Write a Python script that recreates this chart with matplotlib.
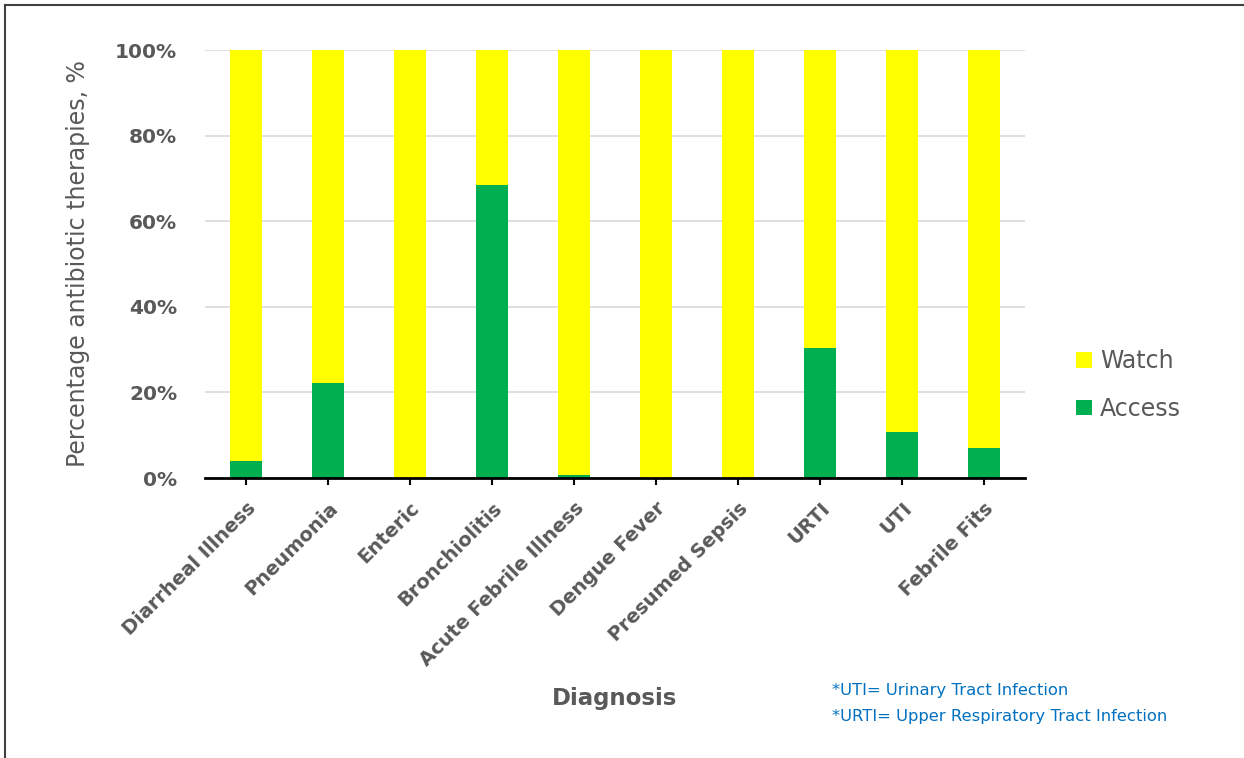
import matplotlib
matplotlib.use("Agg")
import matplotlib.pyplot as plt
from matplotlib.lines import Line2D
from matplotlib.patches import Patch
from matplotlib.ticker import FuncFormatter
import numpy as np

categories = ["Diarrheal Illness", "Pneumonia", "Enteric", "Bronchiolitis",
              "Acute Febrile Illness", "Dengue Fever", "Presumed Sepsis",
              "URTI", "UTI", "Febrile Fits"]
access = [4.0, 22.2, 0.0, 68.5, 0.8, 0.0, 0.0, 30.4, 10.7, 7.0]
watch = [100 - a for a in access]
yticks = [0, 20, 40, 60, 80, 100]

plt.rcParams['font.family'] = ['DejaVu Sans']
gray = '#595959'

fig = plt.figure(figsize=(12.44, 7.58), dpi=100)
ax = fig.add_axes([205/1244, 1-478/758, 820/1244, 428/758])

x = np.arange(len(categories))
w = 0.39
ax.bar(x, access, width=w, color='#00B050', zorder=3, label='Access')
ax.bar(x, watch, width=w, bottom=access, color='#FFFF00', zorder=3, label='Watch')

ax.set_xlim(-0.5, len(categories) - 0.5)
ax.set_ylim(0, 100)
ax.set_yticks(yticks)
ax.yaxis.set_major_formatter(FuncFormatter(lambda v, p: f"{int(v)}%"))
ax.grid(axis='y', color='#D9D9D9', linewidth=1.2, zorder=0)
ax.tick_params(axis='y', length=0, pad=20, labelsize=14.5, labelcolor=gray)
for lbl in ax.get_yticklabels():
    lbl.set_fontweight('bold')

for s in ['left', 'right', 'top']:
    ax.spines[s].set_visible(False)
ax.spines['bottom'].set_color('black')
ax.spines['bottom'].set_linewidth(2)
ax.spines['bottom'].set_zorder(4)

ax.set_xticks(x)
ax.set_xticklabels(categories, rotation=45, ha='right', rotation_mode='anchor',
                   fontsize=14, fontweight='bold', color=gray)
ax.tick_params(axis='x', length=5, width=1.5, color='black', pad=10)

ax.set_ylabel("Percentage antibiotic therapies, %", fontsize=17, color=gray)
ax.yaxis.set_label_coords(-0.14, 0.5)
fig.text(615/1244, 1-698/758, "Diagnosis", fontsize=16.5, fontweight='bold',
         color=gray, ha='center', va='center')

handles = [Patch(facecolor='#FFFF00', label='Watch'),
           Patch(facecolor='#00B050', label='Access')]
fig.legend(handles=handles, loc='center left',
           bbox_to_anchor=(1055/1244, 1-385/758), frameon=False,
           fontsize=17, labelcolor=gray, handlelength=0.65, handleheight=0.65,
           handletextpad=0.35, labelspacing=1.0)

fig.text(832/1244, 1-691/758, "*UTI= Urinary Tract Infection", fontsize=11.8,
         color='#0070C0', ha='left', va='center')
fig.text(832/1244, 1-716/758, "*URTI= Upper Respiratory Tract Infection",
         fontsize=11.8, color='#0070C0', ha='left', va='center')

fig.add_artist(Line2D([5/1244, 5/1244], [0, 1-5/758], transform=fig.transFigure,
                      color='#404040', linewidth=1.5))
fig.add_artist(Line2D([5/1244, 1], [1-5/758, 1-5/758], transform=fig.transFigure,
                      color='#404040', linewidth=1.5))

fig.savefig("out.png", dpi=100)
